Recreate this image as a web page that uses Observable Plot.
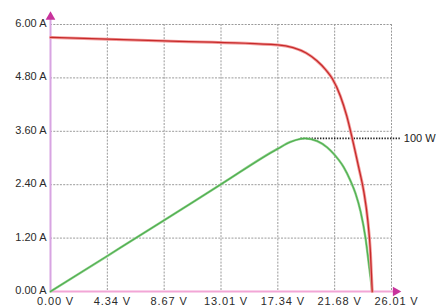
<!DOCTYPE html>
<html>
<head>
<meta charset="utf-8">
<script src="https://cdn.jsdelivr.net/npm/d3@7"></script>
<script src="https://cdn.jsdelivr.net/npm/@observablehq/plot@0.6"></script>
<style>
  html, body { margin: 0; padding: 0; background: #fff; }
  g[aria-label="x-axis tick label"] text { letter-spacing: 0.9px; }
</style>
</head>
<body>
<div id="chart"></div>
<script>
// Axis ticks and labels
const xTicks = [0, 4.335, 8.67, 13.005, 17.34, 21.675, 26.01];
const xLabels = ["0.00 V", "4.34 V", "8.67 V", "13.01 V", "17.34 V", "21.68 V", "26.01 V"];
const yTicks = [0, 1.2, 2.4, 3.6, 4.8, 6.0];
const yLabels = ["0.00 A", "1.20 A", "2.40 A", "3.60 A", "4.80 A", "6.00 A"];

// I-V curve (red): voltage (V) and current (A)
const ivVoltage = [0, 8.67, 17.34, 18.5, 19.5, 20.3, 21.0, 21.5, 22.1, 22.6, 23.0, 23.5, 23.9, 24.2, 24.4, 24.54];
const ivCurrent = [5.71, 5.63, 5.54, 5.48, 5.36, 5.19, 4.98, 4.78, 4.40, 3.94, 3.46, 2.80, 2.24, 1.60, 0.90, 0];

// P-V curve (green), drawn on the current axis
const pvVoltage = [0, 4.34, 8.67, 13.01, 17.34, 18.3, 19.07, 19.4, 20.34, 21.1, 21.61, 22.37, 22.88, 23.27, 23.65, 24.03, 24.28, 24.45, 24.54];
const pvValue = [0, 0.80, 1.60, 2.41, 3.21, 3.36, 3.43, 3.44, 3.38, 3.24, 3.09, 2.79, 2.49, 2.20, 1.80, 1.20, 0.62, 0.22, 0];

// Maximum power marker
const mppVoltage = 19.1;
const mppLevel = 3.44;
const mppLabel = "100 W";

const iv = ivVoltage.map((v, k) => ({v, a: ivCurrent[k]}));
const pv = pvVoltage.map((v, k) => ({v, a: pvValue[k]}));

const chart = Plot.plot({
  width: 438,
  height: 307,
  marginLeft: 50,
  marginRight: 47,
  marginTop: 24,
  marginBottom: 16,
  style: {fontFamily: "'Liberation Sans', Arial, sans-serif", fontSize: "11px", color: "#333", background: "#fff", overflow: "visible"},
  x: {domain: [0, 26.01]},
  y: {domain: [0, 6]},
  marks: [
    Plot.gridX(xTicks.slice(1), {stroke: "#9a9a9a", strokeOpacity: 1, strokeDasharray: "2,1.3", strokeWidth: 1}),
    Plot.gridY(yTicks.slice(1), {stroke: "#9a9a9a", strokeOpacity: 1, strokeDasharray: "2,1.3", strokeWidth: 1}),
    Plot.axisX(xTicks, {tickSize: 0, tickPadding: 6, dx: 5, tickFormat: d => xLabels[xTicks.indexOf(d)], fill: "#2a2a2a"}),
    Plot.axisY(yTicks, {tickSize: 0, tickPadding: 4, dy: -1, tickFormat: d => yLabels[yTicks.indexOf(d)], fill: "#2a2a2a"}),
    Plot.ruleX([0], {y1: 0, y2: 6.14, stroke: "#d8a4e2", strokeWidth: 2}),
    Plot.ruleY([0], {x1: 0, x2: 26.25, stroke: "#f2a6d6", strokeWidth: 2}),
    Plot.dot([{x: 0, y: 6.17}], {x: "x", y: "y", symbol: "triangle", r: 3.6, fill: "#c8339c", stroke: "none"}),
    Plot.dot([{x: 26.33, y: 0}], {x: "x", y: "y", symbol: "triangle", r: 3.6, rotate: 90, fill: "#c8339c", stroke: "none"}),
    Plot.ruleY([mppLevel], {x1: mppVoltage, x2: 26.75, stroke: "#222", strokeWidth: 1.6, strokeDasharray: "1.4,1.4"}),
    Plot.text([mppLabel], {x: 26.95, y: mppLevel, text: d => d, textAnchor: "start", fill: "#222", fontSize: 11}),
    Plot.line(pv, {x: "v", y: "a", stroke: "#8fd08c", strokeWidth: 2.4, curve: "monotone-x"}),
    Plot.line(pv, {x: "v", y: "a", stroke: "#4fae4f", strokeWidth: 1.1, curve: "monotone-x"}),
    Plot.line(iv, {x: "v", y: "a", stroke: "#f29a9a", strokeWidth: 3, curve: "monotone-x"}),
    Plot.line(iv, {x: "v", y: "a", stroke: "#c62a2a", strokeWidth: 1.3, curve: "monotone-x"})
  ]
});
document.getElementById("chart").appendChild(chart);
</script>
</body>
</html>
